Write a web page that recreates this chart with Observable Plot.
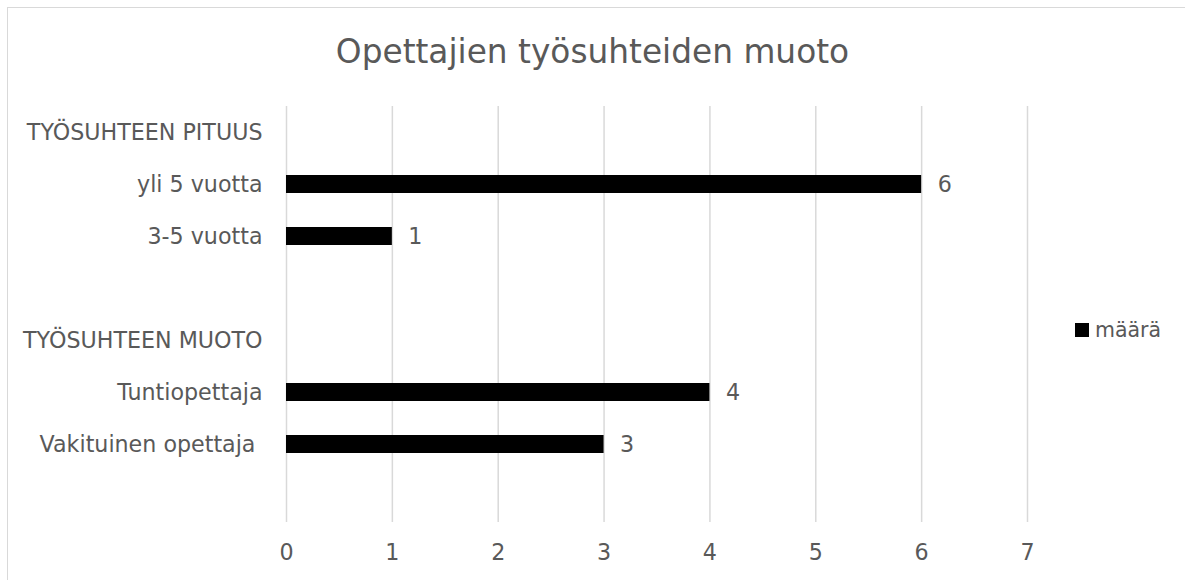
<!DOCTYPE html>
<html>
<head>
<meta charset="utf-8">
<script src="https://cdn.jsdelivr.net/npm/d3@7"></script>
<script src="https://cdn.jsdelivr.net/npm/@observablehq/plot@0.6"></script>
<style>
  html, body { margin: 0; padding: 0; background: #fff; overflow: hidden; }
  body { width: 1185px; height: 580px; position: relative; font-family: "DejaVu Sans", sans-serif; color: #595959; }
  #frame { position: absolute; left: 7px; top: 7px; width: 1200px; height: 600px; border: 1.5px solid #d9d9d9; box-sizing: border-box; }
  #title { position: relative; height: 90px; line-height: 104px; text-align: center; font-size: 32.8px; color: #595959; white-space: nowrap; }
  #legend { position: absolute; left: 1075px; top: 318px; font-size: 20.5px; line-height: 24px; color: #595959; display: flex; align-items: center; }
  #legend .sw { width: 14px; height: 14px; background: #000; margin-right: 6px; }
  #chart { position: relative; }
</style>
</head>
<body>
<div id="frame"></div>
<div id="title">Opettajien työsuhteiden muoto</div>
<div id="chart"></div>
<div id="legend"><span class="sw"></span><span>määrä</span></div>
<script>
const categories = ["TYÖSUHTEEN PITUUS", "yli 5 vuotta", "3-5 vuotta", " ", "TYÖSUHTEEN MUOTO", "Tuntiopettaja", "Vakituinen opettaja\u00a0", "  "];
const values = [null, 6, 1, null, null, 4, 3, null];
const xTicks = [0, 1, 2, 3, 4, 5, 6, 7];
const seriesName = "määrä";

const data = categories.map((c, i) => ({category: c, value: values[i]})).filter(d => d.value != null);

const fs = 22.2;
const plot = Plot.plot({
  width: 1185,
  height: 490,
  marginTop: 16,
  marginBottom: 58,
  marginLeft: 286,
  marginRight: 158,
  style: {fontFamily: "DejaVu Sans, sans-serif", fontSize: fs + "px", color: "#595959", background: "transparent"},
  x: {domain: [0, 7], ticks: xTicks, label: null},
  y: {domain: categories, padding: 0, label: null},
  marks: [
    Plot.gridX(xTicks, {stroke: "#d9d9d9", strokeOpacity: 1, strokeWidth: 1.5}),
    Plot.axisX({ticks: xTicks, tickFormat: "d", tickSize: 0, tickPadding: 22, label: null, fontSize: fs, fill: "#595959"}),
    Plot.axisY({tickSize: 0, tickPadding: 24, label: null, fontSize: fs, fill: "#595959"}),
    Plot.barX(data, {x: "value", y: "category", fill: "black", insetTop: 17, insetBottom: 17}),
    Plot.text(data, {x: "value", y: "category", text: d => String(d.value), textAnchor: "start", dx: 16, fontSize: fs, fill: "#595959"})
  ]
});
document.getElementById("chart").appendChild(plot);
</script>
</body>
</html>
